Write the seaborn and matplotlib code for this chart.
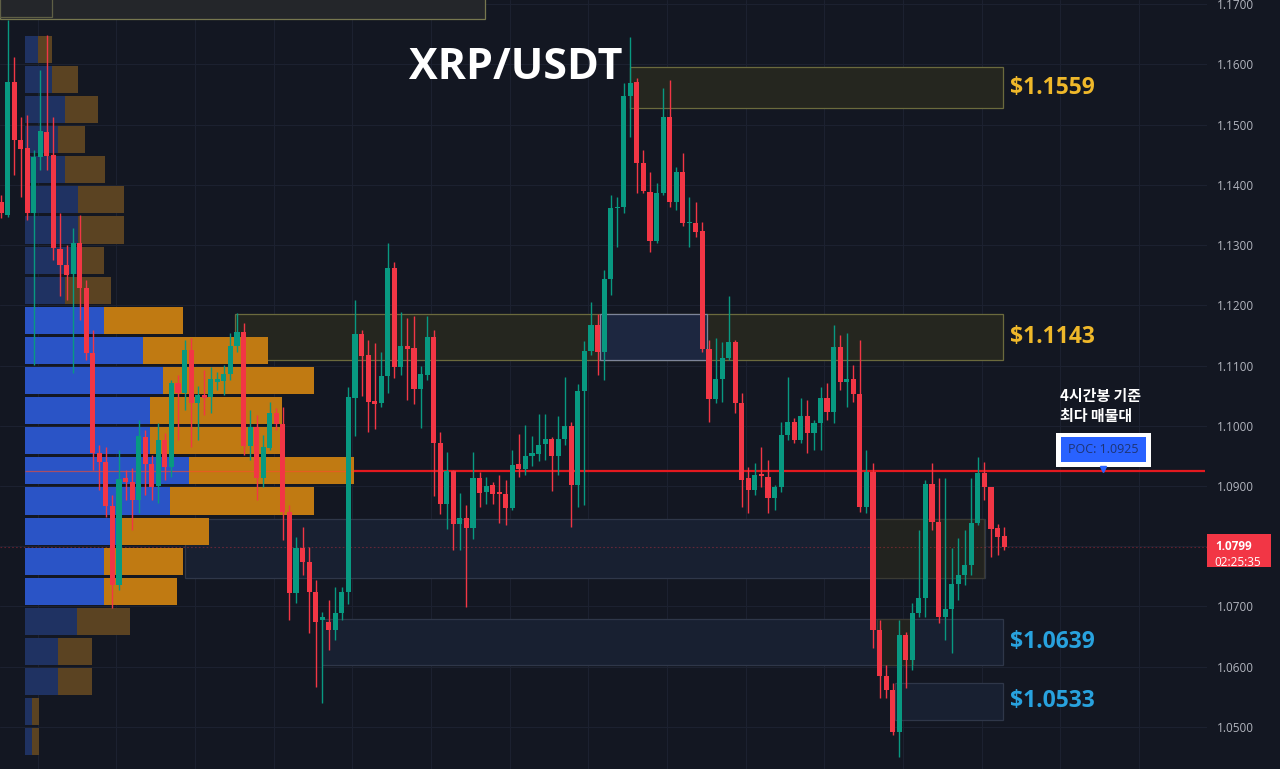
from __future__ import annotations

import matplotlib

matplotlib.use("Agg")
import matplotlib.pyplot as plt
import matplotlib.transforms as mtransforms
import numpy as np
import pandas as pd
import seaborn as sns
from matplotlib.patches import Rectangle

# XRP/USDT 4h candles (oldest -> newest)
opens = [
    1.1371, 1.1350, 1.1571, 1.1474, 1.1461, 1.1353, 1.1446, 1.1487, 1.1449, 1.1293,
    1.1267, 1.1252, 1.1303, 1.1229, 1.1121, 1.0955, 1.0940, 1.0867, 1.0736, 1.0913,
    1.0907, 1.0877, 1.0981, 1.0936, 1.0900, 1.0976, 1.0931, 1.1071, 1.1054, 1.1126,
    1.1038, 1.1051, 1.1048, 1.1072, 1.1074, 1.1086, 1.1132, 1.1156, 1.0966, 1.0998,
    1.0913, 1.0963, 1.1021, 1.1003, 1.0857, 1.0722, 1.0797, 1.0774, 1.0724, 1.0677,
    1.0674, 1.0661, 1.0689, 1.0724, 1.1046, 1.1152, 1.1117, 1.1041, 1.1038, 1.1082,
    1.1262, 1.1097, 1.1132, 1.1129, 1.1061, 1.1084, 1.1147, 1.0971, 1.0870, 1.0925,
    1.0837, 1.0847, 1.0830, 1.0913, 1.0890, 1.0902, 1.0890, 1.0887, 1.0863, 1.0936,
    1.0928, 1.0950, 1.0953, 1.0970, 1.0978, 1.0950, 1.0978, 1.0999, 1.0902, 1.1058,
    1.1124, 1.1167, 1.1122, 1.1244, 1.1361, 1.1363, 1.1547, 1.1571, 1.1436, 1.1388,
    1.1307, 1.1386, 1.1512, 1.1371, 1.1421, 1.1336, 1.1336, 1.1323, 1.1127, 1.1044,
    1.1077, 1.1112, 1.1139, 1.1038, 1.0913, 1.0893, 1.0920, 1.0915, 1.0880, 1.0898,
    1.0985, 1.1006, 1.0976, 1.1016, 1.0988, 1.1004, 1.1046, 1.1023, 1.1131, 1.1072,
    1.1077, 1.1053, 1.0865, 1.0923, 1.0661, 1.0584, 1.0561, 1.0492, 1.0652, 1.0611,
    1.0689, 1.0714, 1.0903, 1.0840, 1.0682, 1.0696, 1.0737, 1.0752, 1.0769, 1.0838,
    1.0921, 1.0898, 1.0830, 1.0817,
]
highs = [
    1.1383, 1.1673, 1.1612, 1.1512, 1.1516, 1.1458, 1.1590, 1.1649, 1.1512, 1.1353,
    1.1300, 1.1328, 1.1350, 1.1242, 1.1159, 1.0968, 1.0965, 1.0885, 1.0960, 1.0926,
    1.0930, 1.1009, 1.0993, 1.0951, 1.1004, 1.0988, 1.1076, 1.1084, 1.1142, 1.1145,
    1.1066, 1.1092, 1.1097, 1.1089, 1.1101, 1.1154, 1.1187, 1.1170, 1.1026, 1.1018,
    1.0985, 1.1039, 1.1029, 1.1031, 1.0868, 1.0815, 1.0832, 1.0799, 1.0744, 1.0691,
    1.0711, 1.0732, 1.0732, 1.1064, 1.1209, 1.1159, 1.1142, 1.1137, 1.1122, 1.1303,
    1.1272, 1.1189, 1.1179, 1.1182, 1.1099, 1.1182, 1.1159, 1.0990, 1.0956, 1.0926,
    1.0888, 1.0868, 1.0956, 1.0923, 1.0915, 1.0907, 1.0918, 1.0910, 1.0960, 1.0986,
    1.1001, 1.0983, 1.1019, 1.1019, 1.0981, 1.1016, 1.1081, 1.1006, 1.1069, 1.1141,
    1.1205, 1.1185, 1.1258, 1.1383, 1.1380, 1.1569, 1.1645, 1.1577, 1.1458, 1.1421,
    1.1403, 1.1561, 1.1574, 1.1429, 1.1453, 1.1380, 1.1371, 1.1338, 1.1142, 1.1145,
    1.1139, 1.1215, 1.1142, 1.1054, 1.0931, 1.0938, 1.0965, 1.0943, 1.0902, 1.1006,
    1.1081, 1.1013, 1.1046, 1.1043, 1.1009, 1.1064, 1.1071, 1.1167, 1.1150, 1.1154,
    1.1101, 1.1142, 1.0960, 1.0938, 1.0677, 1.0603, 1.0573, 1.0677, 1.0657, 1.0706,
    1.0827, 1.0910, 1.0938, 1.0913, 1.0913, 1.0797, 1.0813, 1.0827, 1.0913, 1.0948,
    1.0940, 1.0898, 1.0837, 1.0832,
]
lows = [
    1.1345, 1.1346, 1.1416, 1.1380, 1.1341, 1.1101, 1.1424, 1.1424, 1.1275, 1.1215,
    1.1209, 1.1087, 1.1175, 1.1109, 1.0926, 1.0893, 1.0848, 1.0697, 1.0727, 1.0877,
    1.0827, 1.0855, 1.0885, 1.0877, 1.0872, 1.0910, 1.0915, 1.0976, 1.1026, 1.0965,
    1.0976, 1.1018, 1.1021, 1.1059, 1.1051, 1.1076, 1.1122, 1.0951, 1.0943, 1.0877,
    1.0898, 1.0960, 1.0993, 1.0810, 1.0677, 1.0706, 1.0752, 1.0656, 1.0566, 1.0540,
    1.0628, 1.0644, 1.0677, 1.0704, 1.0983, 1.1049, 1.0990, 1.0994, 1.1031, 1.1054,
    1.1079, 1.1084, 1.1043, 1.1036, 1.0996, 1.1076, 1.0883, 1.0853, 1.0828, 1.0794,
    1.0794, 1.0699, 1.0812, 1.0865, 1.0870, 1.0870, 1.0838, 1.0835, 1.0860, 1.0915,
    1.0918, 1.0933, 1.0941, 1.0943, 1.0892, 1.0918, 1.0968, 1.0832, 1.0865, 1.0868,
    1.1117, 1.1084, 1.1076, 1.1217, 1.1297, 1.1353, 1.1479, 1.1386, 1.1386, 1.1288,
    1.1303, 1.1383, 1.1363, 1.1358, 1.1331, 1.1297, 1.1313, 1.1122, 1.1006, 1.1038,
    1.1039, 1.1109, 1.1021, 1.0865, 1.0855, 1.0885, 1.0898, 1.0855, 1.0860, 1.0890,
    1.0976, 1.0971, 1.0971, 1.0955, 1.0960, 1.0960, 1.1009, 1.1004, 1.1059, 1.1031,
    1.1039, 1.0857, 1.0855, 1.0631, 1.0548, 1.0548, 1.0486, 1.0450, 1.0565, 1.0594,
    1.0682, 1.0682, 1.0827, 1.0672, 1.0644, 1.0623, 1.0711, 1.0736, 1.0752, 1.0835,
    1.0877, 1.0782, 1.0785, 1.0794,
]
closes = [
    1.1353, 1.1571, 1.1474, 1.1459, 1.1353, 1.1446, 1.1489, 1.1448, 1.1295, 1.1267,
    1.1250, 1.1303, 1.1229, 1.1121, 1.0955, 1.0940, 1.0867, 1.0736, 1.0911, 1.0907,
    1.0877, 1.0983, 1.0936, 1.0898, 1.0976, 1.0931, 1.1071, 1.1054, 1.1126, 1.1038,
    1.1051, 1.1046, 1.1077, 1.1077, 1.1086, 1.1132, 1.1156, 1.0966, 1.0998, 1.0913,
    1.0965, 1.1021, 1.1003, 1.0857, 1.0722, 1.0797, 1.0774, 1.0724, 1.0674, 1.0682,
    1.0661, 1.0689, 1.0724, 1.1048, 1.1152, 1.1116, 1.1039, 1.1036, 1.1082, 1.1262,
    1.1097, 1.1132, 1.1127, 1.1061, 1.1086, 1.1147, 1.0971, 1.0870, 1.0925, 1.0837,
    1.0847, 1.0830, 1.0913, 1.0888, 1.0900, 1.0887, 1.0887, 1.0863, 1.0935, 1.0928,
    1.0950, 1.0955, 1.0968, 1.0978, 1.0950, 1.0978, 1.0999, 1.0902, 1.1058, 1.1124,
    1.1167, 1.1122, 1.1244, 1.1361, 1.1363, 1.1547, 1.1569, 1.1436, 1.1390, 1.1307,
    1.1386, 1.1512, 1.1371, 1.1421, 1.1336, 1.1338, 1.1321, 1.1127, 1.1044, 1.1077,
    1.1112, 1.1139, 1.1038, 1.0910, 1.0893, 1.0918, 1.0916, 1.0880, 1.0898, 1.0985,
    1.1006, 1.0976, 1.1016, 1.0988, 1.1004, 1.1046, 1.1023, 1.1131, 1.1072, 1.1077,
    1.1053, 1.0865, 1.0923, 1.0661, 1.0584, 1.0561, 1.0492, 1.0652, 1.0611, 1.0689,
    1.0714, 1.0903, 1.0840, 1.0682, 1.0696, 1.0737, 1.0752, 1.0769, 1.0838, 1.0921,
    1.0898, 1.0828, 1.0815, 1.0799,
]

# volume profile (0.005 rows), buy / sell volume in arbitrary units
vp_prices = [
    1.1625, 1.1575, 1.1525, 1.1475, 1.1425, 1.1375, 1.1325, 1.1275, 1.1225, 1.1175,
    1.1125, 1.1075, 1.1025, 1.0975, 1.0925, 1.0875, 1.0825, 1.0775, 1.0725, 1.0675,
    1.0625, 1.0575, 1.0525, 1.0475,
]
vp_buy = [13, 27, 40, 33, 40, 53, 53, 55, 40, 79, 118, 138, 125, 125, 164, 145, 95, 79, 79, 52, 33, 33, 7, 7]
vp_sell = [14, 26, 33, 27, 40, 46, 46, 24, 46, 79, 125, 151, 132, 130, 165, 144, 89, 79, 73, 53, 34, 34, 7, 7]
value_area = (1.0725, 1.1175)

# key zones
zone_tops = [1.1595, 1.1185, 1.0679, 1.0573]
zone_bottoms = [1.1527, 1.1109, 1.0603, 1.0512]
zone_labels = ["$1.1559", "$1.1143", "$1.0639", "$1.0533"]
mid_zone = (1.0845, 1.0747)

poc = 1.0925
last_price = 1.0799
countdown = "02:25:35"
price_ticks = [1.17, 1.16, 1.15, 1.14, 1.13, 1.12, 1.11, 1.10, 1.09, 1.07, 1.06, 1.05]

BG = "#131722"
UP = "#089981"
DOWN = "#f23645"
GOLD = "#efb82a"
SKY = "#28a2de"
OLIVE_FACE, OLIVE_EDGE = "#25261f", "#6b6a3d"
BLUE_FACE, BLUE_EDGE = "#182031", "#2f3749"

sns.set_theme(style="dark", rc={"axes.facecolor": BG, "figure.facecolor": BG})
plt.rcParams["font.family"] = ["Open Sans", "Noto Sans CJK KR", "DejaVu Sans"]

STEP = 6.556  # pixels per candle


def px(x):
    # screen pixel -> candle index
    return (x - 1) / STEP


df = pd.DataFrame({"open": opens, "high": highs, "low": lows, "close": closes})
df["idx"] = np.arange(len(df))
df["up"] = df["close"] >= df["open"]
df["color"] = np.where(df["up"], UP, DOWN)
df["body_low"] = df[["open", "close"]].min(axis=1)
df["body_h"] = np.maximum((df["close"] - df["open"]).abs(), 0.00018)

fig = plt.figure(figsize=(12.8, 7.69), dpi=100)
ax = fig.add_axes([0, 0, 1207 / 1280, 1])
ax.set_facecolor(BG)

# grid
for p in np.arange(1.05, 1.171, 0.01):
    ax.axhline(p, color="#1c2130", lw=0.8, zorder=0)
for g in np.arange(5.6, 184, 12):
    ax.axvline(g, color="#1c2130", lw=0.8, zorder=0)


def zone(x0, x1, top, bottom, face, edge, lw=0.9):
    ax.add_patch(Rectangle((px(x0), bottom), px(x1) - px(x0), top - bottom,
                           facecolor=face, edgecolor=edge, lw=lw, zorder=1))


zone(0, 485, 1.1720, 1.1675, "#24262a", "#77774f")
zone(0, 52, 1.1720, 1.1678, "#24262a", "#5f5f45")
zone(630, 1003, zone_tops[0], zone_bottoms[0], OLIVE_FACE, OLIVE_EDGE)
zone(235, 1003, zone_tops[1], zone_bottoms[1], OLIVE_FACE, OLIVE_EDGE)
zone(600, 707, zone_tops[1], zone_bottoms[1], "#1d2740", "#7d8599")
zone(185, 985, mid_zone[0], mid_zone[1], BLUE_FACE, BLUE_EDGE)
zone(873, 984, mid_zone[0], mid_zone[1], "#22231f", "#3a3a33")
zone(322, 1003, zone_tops[2], zone_bottoms[2], BLUE_FACE, BLUE_EDGE)
zone(877, 913, zone_tops[2], zone_bottoms[2], "#22231f", "#3a3a33")
zone(895, 1003, zone_tops[3], zone_bottoms[3], BLUE_FACE, BLUE_EDGE)

for top, bottom, label, col in zip(zone_tops, zone_bottoms, zone_labels, [GOLD, GOLD, SKY, SKY]):
    ax.text(px(1010), (top + bottom) / 2, label, color=col, fontsize=16.5,
            fontweight="bold", ha="left", va="center", zorder=6)

# volume profile
vp = pd.DataFrame({"price": vp_prices, "buy": vp_buy, "sell": vp_sell})
vp["in_va"] = vp["price"].between(*value_area)
left = px(25)
scale = 1 / STEP
ax.barh(vp["price"], vp["buy"] * scale, left=left, height=0.0045,
        color=np.where(vp["in_va"], "#2a54c6", "#1f3262"), linewidth=0, zorder=2)
ax.barh(vp["price"], vp["sell"] * scale, left=left + vp["buy"] * scale, height=0.0045,
        color=np.where(vp["in_va"], "#c07a12", "#5b4322"), linewidth=0, zorder=2)
vp_end = left + (vp["buy"] + vp["sell"]).max() * scale

# POC line + current price line
ax.hlines(poc, left, vp_end, color="#ff4a2a", alpha=0.6, lw=0.9, zorder=3)
ax.hlines(poc, vp_end, px(1205), color="#e3191f", lw=1.6, zorder=3)
ax.axhline(last_price, color=DOWN, alpha=0.35, lw=0.8, ls=(0, (1.5, 2)), zorder=1.5)

# candles
ax.vlines(df["idx"], df["low"], df["high"], color=df["color"], lw=1, zorder=4)
ax.bar(df["idx"], df["body_h"], bottom=df["body_low"], width=0.78,
       color=df["color"], zorder=5, linewidth=0)

# title and annotations
ax.text(px(516), 1.1595, "XRP/USDT", color="white", fontsize=31, fontweight="bold",
        ha="center", va="center", zorder=6)
ax.text(px(1060), 1.1033, "4시간봉 기준\n최다 매물대", color="white", fontsize=10.8,
        fontweight="bold", ha="left", va="center", linespacing=1.35, zorder=6,
        family=["Noto Sans CJK KR", "DejaVu Sans"])
ax.add_patch(Rectangle((px(1056), 1.0932), px(1151) - px(1056), 0.0056,
                       facecolor="white", edgecolor="none", zorder=6))
ax.add_patch(Rectangle((px(1061), 1.0940), px(1146) - px(1061), 0.0041,
                       facecolor="#2962ff", edgecolor="none", zorder=7))
ax.text((px(1056) + px(1151)) / 2, 1.09605, f"POC: {poc:.4f}", color="#1e3474",
        fontsize=9, ha="center", va="center", zorder=8)
ax.plot([px(1103)], [poc + 0.0003], marker="v", ms=4, color="#2962ff", zorder=8)

# axes cosmetics
ax.set_xlim(px(0), px(1207))
ax.set_ylim(1.0430, 1.1707)
ax.set_xticks([])
ax.yaxis.tick_right()
ax.set_yticks(price_ticks)
ax.set_yticklabels([f"{t:.4f}" for t in price_ticks])
ax.tick_params(axis="y", length=0, pad=7, labelcolor="#b2b5be", labelsize=8.5)
ax.grid(False)
for s in ax.spines.values():
    s.set_visible(False)

# last price tag on the price scale
trans = mtransforms.blended_transform_factory(fig.transFigure, ax.transData)
fig.add_artist(Rectangle((1207 / 1280, 1.0765), 64 / 1280, 0.0055, transform=trans,
                         facecolor=DOWN, edgecolor="none", clip_on=False))
fig.text(1215 / 1280, last_price, f"{last_price:.4f}", transform=trans, color="white",
         fontsize=8.5, fontweight="bold", ha="left", va="center")
fig.text(1214 / 1280, 1.0773, countdown, transform=trans, color="white",
         fontsize=8.5, ha="left", va="center")

fig.savefig("out.png", dpi=100, facecolor=BG)
plt.close(fig)
